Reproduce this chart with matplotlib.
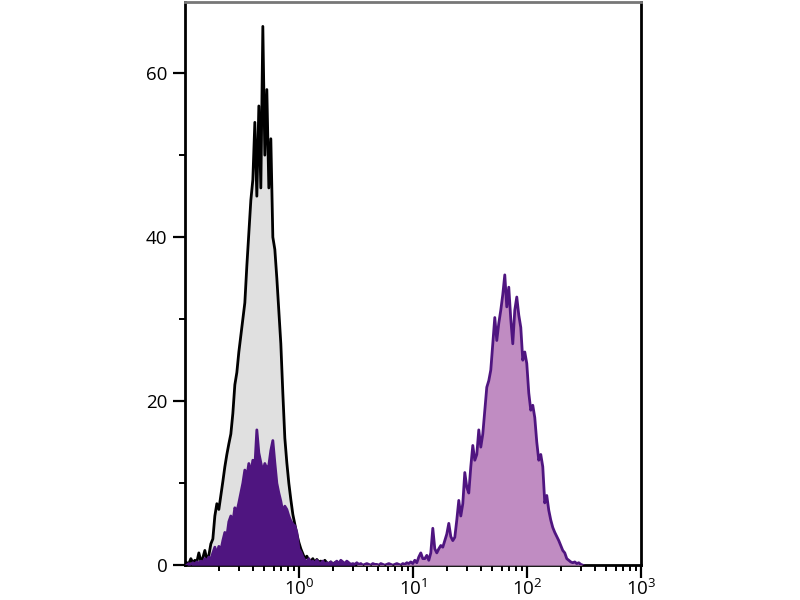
import matplotlib
matplotlib.use("Agg")
import matplotlib.pyplot as plt
from matplotlib.ticker import FixedLocator, MultipleLocator, FuncFormatter
import numpy as np

plt.rcParams['font.family'] = ['Open Sans', 'DejaVu Sans']
plt.rcParams['mathtext.default'] = 'regular'

# histogram channels: log10 of the first bin and bin width in decades
bin_start = -0.982
bin_step = 0.01754

# isotype control (grey fill, black outline)
control_counts = [
    0.3, 0.2, 0.8, 0.3, 0.6, 0.4, 1.5, 0.5, 0.9, 1.8,
    0.7, 1.2, 2.6, 3.2, 6.0, 7.5, 6.8, 8.5, 10.2, 12.0,
    13.5, 14.8, 16.0, 18.5, 22.0, 23.5, 26.0, 28.0, 30.0, 32.0,
    36.5, 40.5, 44.5, 47.0, 54.0, 45.0, 56.0, 46.0, 65.7, 50.0,
    58.0, 46.0, 52.0, 40.0, 38.5, 35.0, 31.0, 27.0, 21.0, 15.5,
    12.5, 10.0, 8.0, 6.2, 5.0, 3.8, 2.8, 2.0, 1.4, 0.8,
    1.1, 0.6, 0.5, 0.8, 0.3, 0.7, 0.4, 0.5, 0.2, 0.6,
    0.3, 0.2, 0.4, 0.1, 0.3, 0.2, 0.1, 0.3, 0.1, 0.2,
    0.0,
]

# stained sample (purple)
stained_counts = [
    0.0, 0.2, 0.0, 0.3, 0.1, 0.4, 0.2, 0.5, 0.3, 0.8,
    0.5, 1.0, 0.7, 1.5, 2.2, 1.4, 2.3, 1.8, 3.0, 4.0,
    3.5, 5.3, 6.0, 5.2, 7.0, 6.5, 7.6, 8.8, 10.0, 11.6,
    10.8, 12.4, 11.2, 12.8, 12.0, 16.5, 13.7, 12.5, 11.4, 12.4,
    11.8, 12.2, 14.0, 15.2, 12.5, 10.0, 8.8, 7.8, 6.5, 7.2,
    6.8, 6.0, 5.4, 5.0, 4.8, 4.0, 2.0, 1.6, 1.0, 0.6,
    0.4, 0.8, 0.3, 0.5, 0.2, 0.6, 0.3, 0.2, 0.5, 0.1,
    0.3, 0.2, 0.4, 0.1, 0.3, 0.5, 0.2, 0.6, 0.4, 0.2,
    0.5, 0.3, 0.1, 0.2, 0.1, 0.3, 0.1, 0.2, 0.0, 0.1,
    0.2, 0.1, 0.0, 0.2, 0.1, 0.1, 0.0, 0.2, 0.1, 0.0,
    0.1, 0.2, 0.1, 0.0, 0.1, 0.2, 0.1, 0.0, 0.2, 0.1,
    0.3, 0.2, 0.4,
    0.2, 0.6, 0.3, 1.0, 1.5, 0.8, 0.8, 1.2, 0.6, 1.5,
    4.5, 2.0, 1.5, 2.0, 2.4, 2.2, 3.0, 3.8, 5.1, 3.5,
    3.0, 3.4, 5.5, 7.9, 6.0, 7.5, 11.3, 9.5, 8.8, 12.0,
    14.6, 12.8, 13.5, 16.5, 14.4, 16.0, 18.9, 21.7, 22.5, 23.8,
    27.0, 30.2, 27.4, 29.5, 31.1, 33.0, 35.4, 31.5, 33.9, 30.0,
    27.0, 31.1, 32.7, 30.5, 29.0, 25.0, 26.0, 24.6, 21.0, 18.9,
    19.5, 18.0, 15.0, 12.8, 13.5, 12.0, 7.6, 8.5, 6.7, 5.5,
    4.6, 4.0, 3.5, 3.0, 2.4, 1.8, 1.5, 0.8, 0.6, 0.4,
    0.3, 0.4, 0.2, 0.3, 0.1, 0.0,
]

# low peak of the stained sample is drawn dark, the rest light
dark_limit = 10 ** 0.5

x_ticks = [1, 10, 100, 1000]

ctrl = np.array(control_counts)
stain = np.array(stained_counts)
ctrl_x = 10 ** (bin_start + bin_step * np.arange(len(ctrl)))
stain_x = 10 ** (bin_start + bin_step * np.arange(len(stain)))

fig = plt.figure(figsize=(8, 6), dpi=100)
ax = fig.add_axes([0.231, 0.058, 0.570, 0.939])

ax.fill_between(ctrl_x, 0, ctrl, color='#e0e0e0', lw=0, zorder=1)
ax.plot(ctrl_x, ctrl, color='black', lw=2.0, zorder=2)

dark = stain_x <= dark_limit
ax.fill_between(stain_x, 0, stain, where=dark, color='#4f1580', lw=0, zorder=3)
ax.fill_between(stain_x, 0, stain, where=~dark, color='#c08cc2', lw=0, zorder=3)
ax.plot(stain_x, stain, color='#4f1580', lw=2.0, zorder=4)

ax.set_xscale('log')
ax.set_xlim(0.1, 1000)
ax.set_ylim(0, 68.7)

ax.xaxis.set_major_locator(FixedLocator(x_ticks))
ax.xaxis.set_major_formatter(FuncFormatter(lambda v, p: r'$10^{%d}$' % round(np.log10(v))))
minor = [m * 10.0 ** d for d in range(-1, 3) for m in range(2, 10)]
ax.xaxis.set_minor_locator(FixedLocator(minor))
ax.xaxis.set_minor_formatter(FuncFormatter(lambda v, p: ''))

ax.yaxis.set_major_locator(MultipleLocator(20))
ax.yaxis.set_minor_locator(MultipleLocator(10))

ax.tick_params(which='major', length=9, width=1.6, labelsize=13.5, color='black')
ax.tick_params(axis='y', which='major', pad=3.5)
ax.tick_params(axis='x', which='major', pad=1)
ax.tick_params(which='minor', length=4.5, width=1.4, color='black')

for side in ['left', 'bottom', 'right']:
    ax.spines[side].set_linewidth(2.0)
    ax.spines[side].set_color('black')
ax.spines['top'].set_linewidth(2.0)
ax.spines['top'].set_color('#777777')

fig.savefig('out.png', dpi=100)
